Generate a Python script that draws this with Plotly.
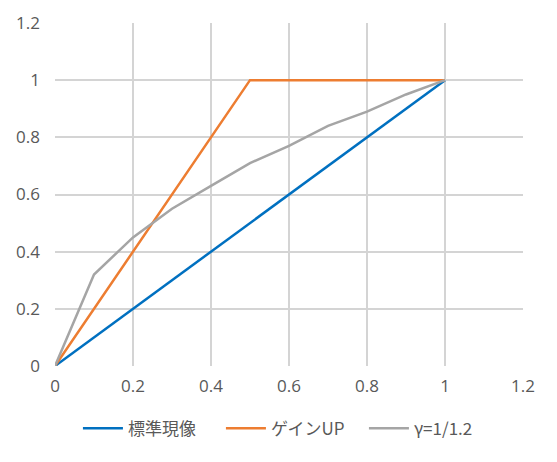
import plotly.graph_objects as go

std_x = [0, 1]
std_y = [0, 1]
gain_x = [0, 0.5, 1]
gain_y = [0, 1, 1]
gamma_x = [0, 0.1, 0.2, 0.3, 0.4, 0.5, 0.6, 0.7, 0.8, 0.9, 1.0]
gamma_y = [0, 0.32, 0.45, 0.55, 0.63, 0.71, 0.77, 0.84, 0.89, 0.95, 1.0]
names = ["標準現像", "ゲインUP", "γ=1/1.2"]
ticks = [0, 0.2, 0.4, 0.6, 0.8, 1, 1.2]
ticktext = ["0", "0.2", "0.4", "0.6", "0.8", "1", "1.2"]

fig = go.Figure()
fig.add_trace(go.Scatter(x=std_x, y=std_y, mode="lines", name=names[0],
                         line=dict(color="#0070C0", width=2.5)))
fig.add_trace(go.Scatter(x=gain_x, y=gain_y, mode="lines", name=names[1],
                         line=dict(color="#ED7D31", width=2.5)))
fig.add_trace(go.Scatter(x=gamma_x, y=gamma_y, mode="lines", name=names[2],
                         line=dict(color="#A5A5A5", width=2.5)))

axis_common = dict(range=[0, 1.2], tickvals=ticks, ticktext=ticktext,
                   showgrid=True, gridcolor="#D4D4D4", gridwidth=1.5,
                   zeroline=False, showline=False, ticks="", automargin=False,
                   tickfont=dict(size=17, color="#595959",
                                 family="Open Sans"))
fig.update_xaxes(**axis_common)
fig.update_yaxes(**axis_common)
fig.update_xaxes(ticklabelstandoff=8)
fig.update_yaxes(ticklabelstandoff=14)

fig.update_layout(
    width=549, height=454,
    margin=dict(l=47, r=34, t=15, b=96),
    plot_bgcolor="white", paper_bgcolor="white",
    showlegend=True,
    legend=dict(orientation="h", x=0.049, xanchor="left", y=-0.13, yanchor="top",
                font=dict(size=17, color="#595959", family="Noto Sans CJK JP"),
                itemwidth=40, tracegroupgap=0, entrywidth=88),
    font=dict(family="Noto Sans CJK JP"),
)

fig.write_html("out.html")
